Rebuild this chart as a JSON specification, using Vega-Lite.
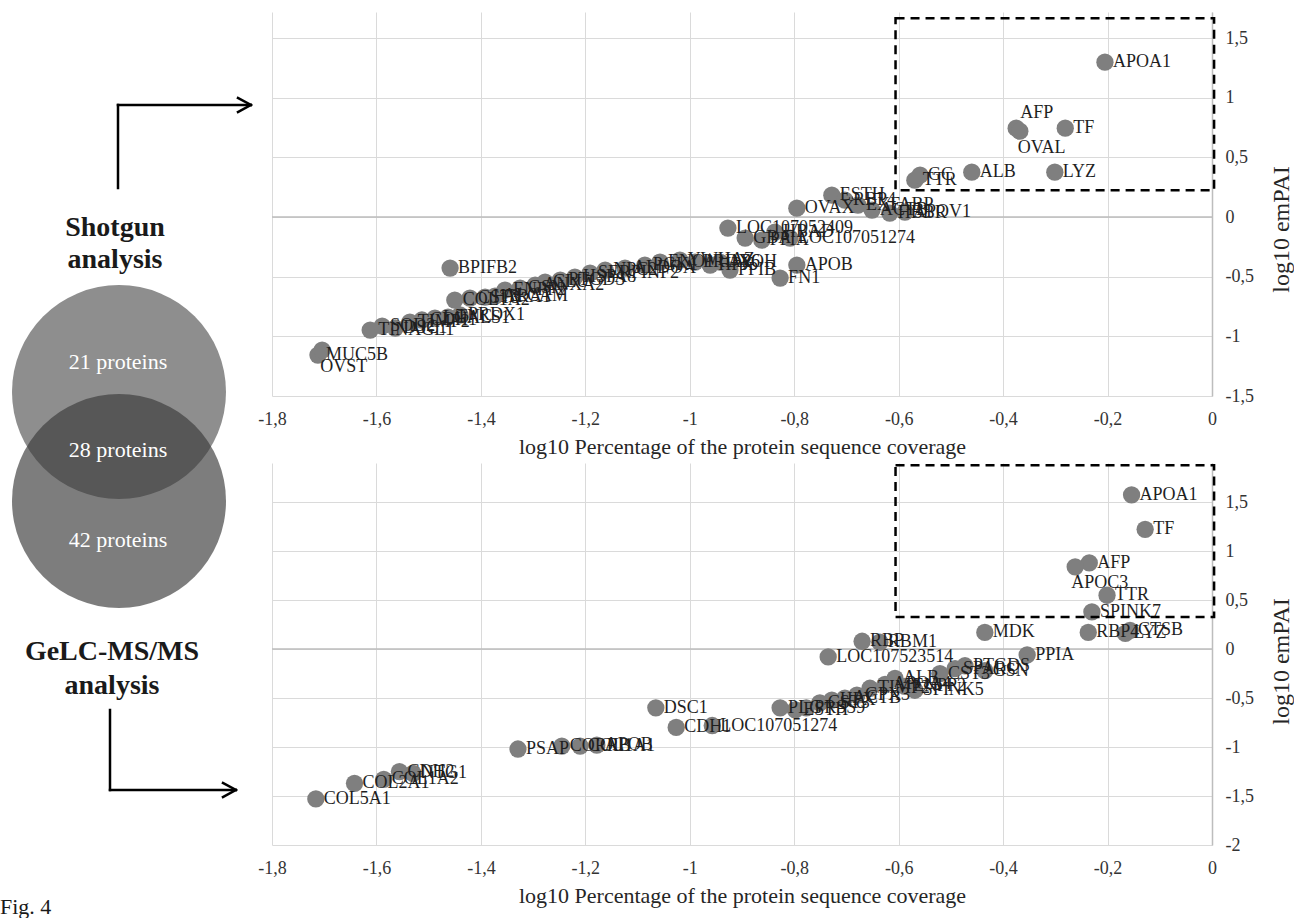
{
  "$schema": "https://vega.github.io/schema/vega-lite/v6.json",
  "padding": {"left": 0, "top": 12, "right": 0, "bottom": 0},
  "bounds": "flush",
  "spacing": 17,
  "config": {
    "view": {"stroke": null},
    "font": "Liberation Serif",
    "text": {"font": "Liberation Serif"}
  },
  "hconcat": [
    {
      "width": 255,
      "height": 900,
      "layer": [
        {
          "data": {"values": [{"cx": 119, "cy": 392}]},
          "mark": {"type": "circle", "size": 45800, "color": "#8e8e8e", "opacity": 1},
          "encoding": {
            "x": {"field": "cx", "type": "quantitative", "scale": {"domain": [0, 255], "nice": false, "zero": false}, "axis": null},
            "y": {"field": "cy", "type": "quantitative", "scale": {"domain": [12, 912], "reverse": true, "nice": false, "zero": false}, "axis": null}
          }
        },
        {
          "data": {"values": [{"cx": 119, "cy": 501}]},
          "mark": {"type": "circle", "size": 45800, "color": "#3b3b3b", "opacity": 0.664},
          "encoding": {
            "x": {"field": "cx", "type": "quantitative", "axis": null},
            "y": {"field": "cy", "type": "quantitative", "axis": null}
          }
        },
        {
          "data": {"values": [
            {"tx": 118, "ty": 362, "t": "21 proteins"},
            {"tx": 118, "ty": 450, "t": "28 proteins"},
            {"tx": 118, "ty": 540, "t": "42 proteins"}
          ]},
          "mark": {"type": "text", "color": "white", "fontSize": 22, "baseline": "middle"},
          "encoding": {
            "x": {"field": "tx", "type": "quantitative", "axis": null},
            "y": {"field": "ty", "type": "quantitative", "axis": null},
            "text": {"field": "t"}
          }
        },
        {
          "data": {"values": [
            {"tx": 115, "ty": 236, "t": "Shotgun"},
            {"tx": 115, "ty": 268, "t": "analysis"},
            {"tx": 112, "ty": 660, "t": "GeLC-MS/MS"},
            {"tx": 112, "ty": 694, "t": "analysis"}
          ]},
          "mark": {"type": "text", "color": "#1a1a1a", "fontSize": 28, "fontWeight": "bold", "baseline": "alphabetic"},
          "encoding": {
            "x": {"field": "tx", "type": "quantitative", "axis": null},
            "y": {"field": "ty", "type": "quantitative", "axis": null},
            "text": {"field": "t"}
          }
        },
        {
          "data": {"values": [
            {"xa": 118, "ya": 188, "xb": 118, "yb": 105},
            {"xa": 118, "ya": 105, "xb": 250, "yb": 105},
            {"xa": 251, "ya": 105, "xb": 238, "yb": 98},
            {"xa": 251, "ya": 105, "xb": 238, "yb": 112},
            {"xa": 110, "ya": 710, "xb": 110, "yb": 790},
            {"xa": 110, "ya": 790, "xb": 235, "yb": 790},
            {"xa": 236, "ya": 790, "xb": 223, "yb": 783},
            {"xa": 236, "ya": 790, "xb": 223, "yb": 797}
          ]},
          "mark": {"type": "rule", "color": "black", "strokeWidth": 2.5, "strokeCap": "square"},
          "encoding": {
            "x": {"field": "xa", "type": "quantitative", "axis": null},
            "y": {"field": "ya", "type": "quantitative", "axis": null},
            "x2": {"field": "xb"},
            "y2": {"field": "yb"}
          }
        },
        {
          "data": {"values": [{"tx": 0, "ty": 914, "t": "Fig. 4"}]},
          "mark": {"type": "text", "color": "#1a1a1a", "fontSize": 22, "align": "left", "baseline": "alphabetic"},
          "encoding": {
            "x": {"field": "tx", "type": "quantitative", "axis": null},
            "y": {"field": "ty", "type": "quantitative", "axis": null},
            "text": {"field": "t"}
          }
        }
      ]
    },
    {
      "vconcat": [
        {
          "width": 940,
          "height": 384,
          "layer": [
            {
              "data": {"values": [{}]},
              "mark": {"type": "rule", "color": "#bdbdbd", "strokeWidth": 1.5},
              "encoding": {"y": {"datum": 0, "type": "quantitative"}}
            },
            {
              "data": {"values": [
                {"x": -1.712, "y": -1.157, "label": "MUC5B"},
                {"x": -1.704, "y": -1.115, "label": "OVST"},
                {"x": -1.612, "y": -0.947, "label": "TINAGL1"},
                {"x": -1.589, "y": -0.914, "label": "SOD2"},
                {"x": -1.564, "y": -0.930, "label": "DSC1"},
                {"x": -1.536, "y": -0.880, "label": "TIMP2"},
                {"x": -1.513, "y": -0.863, "label": "CDH1"},
                {"x": -1.488, "y": -0.847, "label": "LGALS1"},
                {"x": -1.463, "y": -0.838, "label": "TNC"},
                {"x": -1.440, "y": -0.821, "label": "PRDX1"},
                {"x": -1.459, "y": -0.427, "label": "BPIFB2"},
                {"x": -1.450, "y": -0.696, "label": "COL1A2"},
                {"x": -1.421, "y": -0.679, "label": "CST3"},
                {"x": -1.392, "y": -0.671, "label": "HTRA1"},
                {"x": -1.373, "y": -0.662, "label": "ALCAM"},
                {"x": -1.354, "y": -0.612, "label": "ENPP2"},
                {"x": -1.325, "y": -0.595, "label": "GSN"},
                {"x": -1.296, "y": -0.570, "label": "ANXA2"},
                {"x": -1.277, "y": -0.545, "label": "CLU"},
                {"x": -1.248, "y": -0.528, "label": "PTGDS"},
                {"x": -1.220, "y": -0.503, "label": "HSPA8"},
                {"x": -1.191, "y": -0.469, "label": "SERPINF2"},
                {"x": -1.162, "y": -0.444, "label": "NPC2"},
                {"x": -1.124, "y": -0.427, "label": "ALDOA"},
                {"x": -1.086, "y": -0.402, "label": "PGK1"},
                {"x": -1.057, "y": -0.377, "label": "ENO1"},
                {"x": -1.019, "y": -0.360, "label": "YWHAZ"},
                {"x": -0.990, "y": -0.377, "label": "PRDX6"},
                {"x": -0.961, "y": -0.402, "label": "HPX"},
                {"x": -0.942, "y": -0.377, "label": "APOH"},
                {"x": -0.923, "y": -0.444, "label": "PPIB"},
                {"x": -0.827, "y": -0.511, "label": "FN1"},
                {"x": -0.795, "y": -0.402, "label": "APOB"},
                {"x": -0.927, "y": -0.092, "label": "LOC107052409"},
                {"x": -0.894, "y": -0.176, "label": "GBA"},
                {"x": -0.862, "y": -0.193, "label": "PPIA"},
                {"x": -0.837, "y": -0.126, "label": "HBAD"},
                {"x": -0.808, "y": -0.176, "label": "LOC107051274"},
                {"x": -0.795, "y": 0.075, "label": "OVAX"},
                {"x": -0.728, "y": 0.184, "label": "ESTH"},
                {"x": -0.703, "y": 0.142, "label": "RBP4"},
                {"x": -0.678, "y": 0.101, "label": "EXFABP"},
                {"x": -0.651, "y": 0.059, "label": "ACTB"},
                {"x": -0.617, "y": 0.034, "label": "HBBR"},
                {"x": -0.588, "y": 0.042, "label": "APOV1"},
                {"x": -0.569, "y": 0.310, "label": "TTR"},
                {"x": -0.559, "y": 0.352, "label": "GC"},
                {"x": -0.460, "y": 0.377, "label": "ALB"},
                {"x": -0.301, "y": 0.377, "label": "LYZ"},
                {"x": -0.375, "y": 0.746, "label": "AFP"},
                {"x": -0.368, "y": 0.721, "label": "OVAL"},
                {"x": -0.281, "y": 0.746, "label": "TF"},
                {"x": -0.205, "y": 1.299, "label": "APOA1"}
              ]},
              "layer": [
                {
                  "mark": {"type": "circle", "size": 300, "color": "#7f7f7f", "opacity": 1},
                  "encoding": {
                    "x": {"field": "x", "type": "quantitative",
                      "scale": {"domain": [-1.8, 0], "nice": false, "zero": false},
                      "axis": {"title": "log10 Percentage of the protein sequence coverage",
                        "values": [-1.8, -1.6, -1.4, -1.2, -1, -0.8, -0.6, -0.4, -0.2, 0],
                        "domain": false, "ticks": false, "grid": true, "gridColor": "#dadada", "gridWidth": 1,
                        "labelFlush": false, "labelOverlap": false,
                        "labelExpr": "replace(replace(format(datum.value, '.1~f'), '\u2212', '-'), '.', ',')",
                        "labelFont": "Liberation Serif", "labelFontSize": 18, "labelColor": "#333333", "labelPadding": 14,
                        "titleFont": "Liberation Serif", "titleFontSize": 22, "titleFontWeight": "normal", "titleColor": "#262626", "titlePadding": 8}},
                    "y": {"field": "y", "type": "quantitative",
                      "scale": {"domain": [-1.5, 1.72], "nice": false, "zero": false},
                      "axis": {"title": "log10 emPAI", "orient": "right",
                        "values": [-1.5, -1, -0.5, 0, 0.5, 1, 1.5],
                        "domain": true, "domainColor": "#bdbdbd", "domainWidth": 1.5,
                        "ticks": false, "grid": true, "gridColor": "#dadada", "gridWidth": 1,
                        "labelFlush": false, "labelOverlap": false, "labelAlign": "left", "labelBaseline": "middle",
                        "labelExpr": "replace(replace(format(datum.value, '.1~f'), '\u2212', '-'), '.', ',')",
                        "labelFont": "Liberation Serif", "labelFontSize": 18, "labelColor": "#333333", "labelPadding": 13,
                        "titleFont": "Liberation Serif", "titleFontSize": 24, "titleFontWeight": "normal", "titleColor": "#262626",
                        "titleAngle": 270, "titlePadding": 40, "titleY": 217}}
                  }
                },
                {
                  "transform": [{"filter": {"not": {"field": "label", "oneOf": ["OVST", "OVAL", "AFP"]}}}],
                  "mark": {"type": "text", "align": "left", "baseline": "middle", "dx": 8, "fontSize": 18, "color": "#1f1f1f"},
                  "encoding": {
                    "x": {"field": "x", "type": "quantitative"},
                    "y": {"field": "y", "type": "quantitative"},
                    "text": {"field": "label"}
                  }
                },
                {
                  "transform": [{"filter": {"field": "label", "oneOf": ["OVST", "OVAL"]}}],
                  "mark": {"type": "text", "align": "left", "baseline": "middle", "dx": -2, "dy": 17, "fontSize": 18, "color": "#1f1f1f"},
                  "encoding": {
                    "x": {"field": "x", "type": "quantitative"},
                    "y": {"field": "y", "type": "quantitative"},
                    "text": {"field": "label"}
                  }
                },
                {
                  "transform": [{"filter": {"field": "label", "oneOf": ["AFP"]}}],
                  "mark": {"type": "text", "align": "left", "baseline": "middle", "dx": 4, "dy": -15, "fontSize": 18, "color": "#1f1f1f"},
                  "encoding": {
                    "x": {"field": "x", "type": "quantitative"},
                    "y": {"field": "y", "type": "quantitative"},
                    "text": {"field": "label"}
                  }
                }
              ]
            },
            {
              "data": {"values": [{"x": -0.606, "x2": 0.004, "y": 1.668, "y2": 0.226}]},
              "mark": {"type": "rect", "fill": null, "stroke": "black", "strokeWidth": 2.5, "strokeDash": [9, 6]},
              "encoding": {
                "x": {"field": "x", "type": "quantitative"},
                "x2": {"field": "x2"},
                "y": {"field": "y", "type": "quantitative"},
                "y2": {"field": "y2"}
              }
            }
          ]
        },
        {
          "width": 940,
          "height": 382,
          "layer": [
            {
              "data": {"values": [{}]},
              "mark": {"type": "rule", "color": "#bdbdbd", "strokeWidth": 1.5},
              "encoding": {"y": {"datum": 0, "type": "quantitative"}}
            },
            {
              "data": {"values": [
                {"x": -1.716, "y": -1.53, "label": "COL5A1"},
                {"x": -1.642, "y": -1.37, "label": "COL2A1"},
                {"x": -1.586, "y": -1.33, "label": "COL1A2"},
                {"x": -1.556, "y": -1.25, "label": "CDH2"},
                {"x": -1.530, "y": -1.27, "label": "NTG1"},
                {"x": -1.329, "y": -1.02, "label": "PSAP"},
                {"x": -1.245, "y": -0.99, "label": "CORRB"},
                {"x": -1.210, "y": -0.99, "label": "COL1A1"},
                {"x": -1.178, "y": -0.98, "label": "APOB"},
                {"x": -1.065, "y": -0.60, "label": "DSC1"},
                {"x": -1.026, "y": -0.80, "label": "CDH1"},
                {"x": -0.957, "y": -0.78, "label": "LOC107051274"},
                {"x": -0.827, "y": -0.60, "label": "PLG"},
                {"x": -0.798, "y": -0.62, "label": "ESTH"},
                {"x": -0.777, "y": -0.60, "label": "PRSS9"},
                {"x": -0.751, "y": -0.55, "label": "CST3"},
                {"x": -0.728, "y": -0.52, "label": "HPX"},
                {"x": -0.703, "y": -0.50, "label": "ACTB"},
                {"x": -0.680, "y": -0.47, "label": "GPX3"},
                {"x": -0.655, "y": -0.40, "label": "TIMP2"},
                {"x": -0.626, "y": -0.36, "label": "APOA4"},
                {"x": -0.607, "y": -0.30, "label": "ALB"},
                {"x": -0.588, "y": -0.38, "label": "ENPP2"},
                {"x": -0.569, "y": -0.42, "label": "SPINK5"},
                {"x": -0.521, "y": -0.25, "label": "CST3"},
                {"x": -0.492, "y": -0.20, "label": "SPARC"},
                {"x": -0.473, "y": -0.17, "label": "PTGDS"},
                {"x": -0.435, "y": -0.22, "label": "GSN"},
                {"x": -0.735, "y": -0.08, "label": "LOC107523514"},
                {"x": -0.670, "y": 0.08, "label": "RBP"},
                {"x": -0.636, "y": 0.07, "label": "RBM1"},
                {"x": -0.435, "y": 0.17, "label": "MDK"},
                {"x": -0.354, "y": -0.06, "label": "PPIA"},
                {"x": -0.237, "y": 0.17, "label": "RBP4"},
                {"x": -0.230, "y": 0.38, "label": "SPINK7"},
                {"x": -0.201, "y": 0.55, "label": "TTR"},
                {"x": -0.166, "y": 0.16, "label": "LYZ"},
                {"x": -0.157, "y": 0.19, "label": "CTSB"},
                {"x": -0.235, "y": 0.88, "label": "AFP"},
                {"x": -0.262, "y": 0.84, "label": "APOC3"},
                {"x": -0.128, "y": 1.223, "label": "TF"},
                {"x": -0.154, "y": 1.574, "label": "APOA1"}
              ]},
              "layer": [
                {
                  "mark": {"type": "circle", "size": 300, "color": "#7f7f7f", "opacity": 1},
                  "encoding": {
                    "x": {"field": "x", "type": "quantitative",
                      "scale": {"domain": [-1.8, 0], "nice": false, "zero": false},
                      "axis": {"title": "log10 Percentage of the protein sequence coverage",
                        "values": [-1.8, -1.6, -1.4, -1.2, -1, -0.8, -0.6, -0.4, -0.2, 0],
                        "domain": false, "ticks": false, "grid": true, "gridColor": "#dadada", "gridWidth": 1,
                        "labelFlush": false, "labelOverlap": false,
                        "labelExpr": "replace(replace(format(datum.value, '.1~f'), '\u2212', '-'), '.', ',')",
                        "labelFont": "Liberation Serif", "labelFontSize": 18, "labelColor": "#333333", "labelPadding": 14,
                        "titleFont": "Liberation Serif", "titleFontSize": 22, "titleFontWeight": "normal", "titleColor": "#262626", "titlePadding": 8}},
                    "y": {"field": "y", "type": "quantitative",
                      "scale": {"domain": [-2, 1.9], "nice": false, "zero": false},
                      "axis": {"title": "log10 emPAI", "orient": "right",
                        "values": [-2, -1.5, -1, -0.5, 0, 0.5, 1, 1.5],
                        "domain": true, "domainColor": "#bdbdbd", "domainWidth": 1.5,
                        "ticks": false, "grid": true, "gridColor": "#dadada", "gridWidth": 1,
                        "labelFlush": false, "labelOverlap": false, "labelAlign": "left", "labelBaseline": "middle",
                        "labelExpr": "replace(replace(format(datum.value, '.1~f'), '\u2212', '-'), '.', ',')",
                        "labelFont": "Liberation Serif", "labelFontSize": 18, "labelColor": "#333333", "labelPadding": 13,
                        "titleFont": "Liberation Serif", "titleFontSize": 24, "titleFontWeight": "normal", "titleColor": "#262626",
                        "titleAngle": 270, "titlePadding": 40, "titleY": 198}}
                  }
                },
                {
                  "transform": [{"filter": {"not": {"field": "label", "oneOf": ["APOC3"]}}}],
                  "mark": {"type": "text", "align": "left", "baseline": "middle", "dx": 8, "fontSize": 18, "color": "#1f1f1f"},
                  "encoding": {
                    "x": {"field": "x", "type": "quantitative"},
                    "y": {"field": "y", "type": "quantitative"},
                    "text": {"field": "label"}
                  }
                },
                {
                  "transform": [{"filter": {"field": "label", "oneOf": ["APOC3"]}}],
                  "mark": {"type": "text", "align": "left", "baseline": "middle", "dx": -4, "dy": 16, "fontSize": 18, "color": "#1f1f1f"},
                  "encoding": {
                    "x": {"field": "x", "type": "quantitative"},
                    "y": {"field": "y", "type": "quantitative"},
                    "text": {"field": "label"}
                  }
                }
              ]
            },
            {
              "data": {"values": [{"x": -0.606, "x2": 0.004, "y": 1.878, "y2": 0.327}]},
              "mark": {"type": "rect", "fill": null, "stroke": "black", "strokeWidth": 2.5, "strokeDash": [9, 6]},
              "encoding": {
                "x": {"field": "x", "type": "quantitative"},
                "x2": {"field": "x2"},
                "y": {"field": "y", "type": "quantitative"},
                "y2": {"field": "y2"}
              }
            }
          ]
        }
      ],
      "spacing": 67,
      "bounds": "flush"
    }
  ]
}
